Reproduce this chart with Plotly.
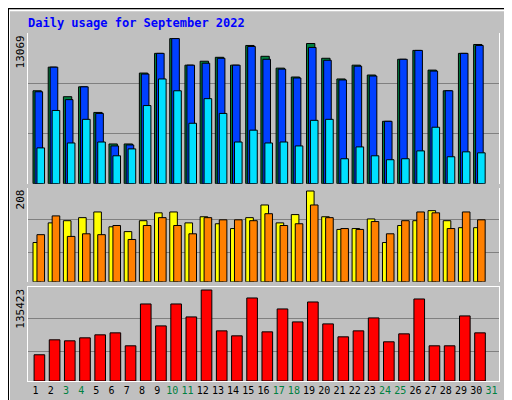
import plotly.graph_objects as go

days = list(range(1, 32))
weekend_days = [3, 4, 10, 11, 17, 18, 24, 25, 31]

hits = [8368, 10497, 7836, 8723, 6417, 3578, 3578, 9965, 11739, 13069, 10675, 11030, 11384, 10675, 12449,
        11473, 10409, 9610, 12626, 11296, 9433, 10675, 9788, 5618, 11207, 12005, 10231, 8368, 11739, 12538]
files = [8280, 10497, 7570, 8723, 6328, 3401, 3489, 9876, 11739, 13069, 10675, 10852, 11296, 10675, 12360,
         11207, 10320, 9521, 12272, 11118, 9344, 10586, 9699, 5618, 11207, 12005, 10142, 8368, 11739, 12449]
pages = [3223, 6594, 3667, 5796, 3755, 2513, 3134, 7038, 9433, 8368, 5441, 7659, 6328, 3755, 4820,
         3667, 3755, 3401, 5707, 5796, 2247, 3312, 2513, 2159, 2247, 2957, 5086, 2425, 2868, 2780]
sites = [90, 135, 140, 147, 160, 126, 115, 140, 158, 160, 135, 149, 133, 122, 147,
         176, 135, 154, 208, 149, 120, 122, 144, 90, 129, 140, 163, 140, 124, 124]
visits = [108, 151, 104, 110, 108, 129, 97, 129, 147, 129, 110, 147, 142, 142, 140,
          156, 129, 133, 176, 147, 122, 120, 138, 110, 140, 160, 158, 122, 160, 142]
kbytes = [39042, 61281, 59798, 64246, 68694, 71659, 52385, 114654, 82037, 114654, 95381, 135423, 74624, 67211, 123550,
          73142, 107241, 87968, 117620, 85002, 65729, 74624, 93898, 58316, 70176, 122067, 52385, 52385, 96863, 71659]

d = days[:30]
line = dict(color="black", width=1)

fig = go.Figure()
fig.add_bar(x=d, y=hits, name="Hits", marker=dict(color="#008040", line=line), offset=-0.17, width=0.55, yaxis="y3")
fig.add_bar(x=d, y=files, name="Files", marker=dict(color="#0040ff", line=line), offset=-0.04, width=0.5, yaxis="y3")
fig.add_bar(x=d, y=pages, name="Pages", marker=dict(color="#00e0ff", line=line), offset=0.09, width=0.5, yaxis="y3")
fig.add_bar(x=d, y=sites, name="Sites", marker=dict(color="#ffff00", line=line), offset=-0.17, width=0.5, yaxis="y2")
fig.add_bar(x=d, y=visits, name="Visits", marker=dict(color="#ff8000", line=line), offset=0.09, width=0.5, yaxis="y2")
fig.add_bar(x=d, y=kbytes, name="KBytes", marker=dict(color="#ff0000", line=line), offset=-0.1, width=0.7, yaxis="y")

ticktext = [f"<span style='color:#008040'>{i}</span>" if i in weekend_days else str(i) for i in days]

grid = dict(showgrid=True, gridcolor="#808080", gridwidth=1, showticklabels=False, zeroline=False,
            showline=True, linecolor="white", linewidth=1, mirror=True, ticks="")
fig.update_layout(
    width=512, height=400,
    margin=dict(l=20, r=21, t=25, b=24),
    paper_bgcolor="#c0c0c0", plot_bgcolor="#c0c0c0",
    showlegend=False, barmode="overlay",
    font=dict(family="DejaVu Sans Mono", size=11, color="black"),
    xaxis=dict(range=[0.5, 31.5], tickvals=days, ticktext=ticktext, tickangle=0, showgrid=False, zeroline=False,
               showline=True, linecolor="white", mirror=True, ticks="", tickfont=dict(size=10)),
    yaxis=dict(domain=[0, 0.271], range=[0, 140358], tickvals=[43490, 92415], **grid),
    yaxis2=dict(domain=[0.285, 0.556], range=[0, 216], tickvals=[67.3, 142.2], anchor="x", **grid),
    yaxis3=dict(domain=[0.567, 1], range=[0, 13573], tickvals=[4524, 9049], anchor="x", **grid),
    title=dict(text="<b>Daily usage for September 2022</b>", x=20/512, xanchor="left", y=1-15/400, yanchor="middle",
               font=dict(family="DejaVu Sans Mono", size=12, color="#0000ff")),
)

ann = [
    dict(text="13069", x=-0.015, y=1.0, yanchor="top"),
    dict(text="208", x=-0.015, y=0.556, yanchor="top"),
    dict(text="135423", x=-0.015, y=0.271, yanchor="top"),
]
for a in ann:
    fig.add_annotation(xref="paper", yref="paper", textangle=-90, showarrow=False, xanchor="center",
                       font=dict(size=11, color="black"), **a)
right = [
    ("<span style='color:#00c0c0'>Pages</span> / <span style='color:#0040ff'>Files</span> / <span style='color:#008040'>Hits</span>", 1.0),
    ("<span style='color:#ff8000'>Sites</span> / <span style='color:#e0e000'>Visits</span>", 0.556),
    ("<span style='color:#ff0000'>KBytes</span>", 0.271),
]
for t, yy in right:
    fig.add_annotation(text=t, xref="paper", yref="paper", x=1.0, y=yy, yanchor="top", xanchor="left",
                       xshift=2, textangle=-90, showarrow=False, font=dict(size=11, color="black"))

# bevelled frame around the image
fig.add_shape(type="rect", xref="paper", yref="paper", x0=-19/471, x1=1+19/471, y0=-22/351, y1=1+23/351,
              line=dict(color="white", width=2))
fig.add_shape(type="rect", xref="paper", yref="paper", x0=-20/471, x1=1+21/471, y0=-24/351, y1=1+25/351,
              line=dict(color="black", width=2))

fig.write_html("out.html")
